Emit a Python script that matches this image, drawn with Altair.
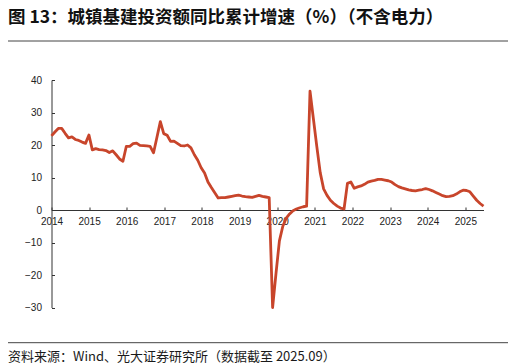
import altair as alt
import pandas as pd

TITLE = "图 13：城镇基建投资额同比累计增速（%）（不含电力）"
SOURCE = "资料来源：Wind、光大证券研究所（数据截至 2025.09）"

# cumulative YoY growth (%), monthly points (January not reported), 2014 -> 2025.09
values = [
    22.8, 24.0, 25.1, 25.1, 23.6, 22.2, 22.5, 21.7, 21.4, 20.9, 20.5,
    23.1, 18.5, 18.9, 18.6, 18.5, 18.3, 17.7, 18.2, 17.0, 15.7, 15.0,
    19.6, 19.6, 20.4, 20.6, 19.9, 19.8, 19.7, 19.6, 17.6, 22.4, 27.2,
    23.5, 23.0, 21.1, 21.2, 20.5, 19.8, 19.7, 20.0, 19.1, 17.0, 15.3,
    13.0, 11.4, 8.6, 6.9, 5.3, 3.7, 3.8, 3.8, 4.0, 4.2, 4.4,
    4.6, 4.3, 4.1, 4.0, 3.9, 4.2, 4.5, 4.2, 4.0, 3.8, -30.0,
    -19.5, -9.5, -5.0, -2.5, -1.2, -0.2, 0.3, 0.7, 1.0, 1.2, 36.6,
    28.0, 19.5, 11.5, 6.5, 4.5, 3.0, 2.0, 1.2, 0.6, 0.3, 8.2,
    8.6, 6.7, 7.1, 7.4, 7.9, 8.6, 8.9, 9.1, 9.4, 9.4, 9.2,
    9.0, 8.6, 7.8, 7.2, 6.8, 6.5, 6.2, 6.0, 5.9, 6.1, 6.3,
    6.6, 6.3, 5.9, 5.4, 4.9, 4.4, 4.1, 4.2, 4.4, 4.9, 5.6,
    6.1, 6.0, 5.6, 4.3, 3.0, 2.0, 1.2,
]
year_ticks = list(range(2014, 2026))
y_ticks = [-30, -20, -10, 0, 10, 20, 30, 40]
PTS_PER_YEAR = 11.06  # points per year on the category axis

df = pd.DataFrame({"v": values})
df["t"] = 2014 + df.index / PTS_PER_YEAR

W, H = 432, 227.5
XDOM = [2014, float(df["t"].max())]
YDOM = [-30, 40]
Y0 = H * YDOM[1] / (YDOM[1] - YDOM[0])  # pixel position of zero from top

xs = alt.Scale(domain=XDOM, nice=False, zero=False)
ys = alt.Scale(domain=YDOM, nice=False, zero=False)

AX = dict(grid=False, title=None, labelFont="Liberation Sans", labelFontSize=10,
          labelColor="#222222", domainColor="#333333", domainWidth=1,
          tickColor="#333333", tickWidth=1, labelOverlap=False, labelFlush=False)

line = alt.Chart(df).mark_line(color="#C8452B", strokeWidth=2.8, strokeJoin="round").encode(
    x=alt.X("t:Q", scale=xs,
            axis=alt.Axis(orient="bottom", offset=-(H - Y0), values=year_ticks, format="d",
                          ticks=False, tickSize=0, labelPadding=6, **AX)),
    y=alt.Y("v:Q", scale=ys,
            axis=alt.Axis(orient="left", values=y_ticks, ticks=False, tickSize=0,
                          labelPadding=10, **AX)),
)

tick_layer = alt.Chart(df).mark_line(opacity=0).encode(
    x=alt.X("t:Q", scale=xs,
            axis=alt.Axis(orient="top", offset=-Y0, values=year_ticks, labels=False,
                          domain=False, ticks=True, tickSize=3, **AX)),
    y=alt.Y("v:Q", scale=ys,
            axis=alt.Axis(orient="right", offset=-W, values=y_ticks, labels=False,
                          domain=False, ticks=True, tickSize=3, **AX)),
)

title = alt.Chart(pd.DataFrame({"s": [TITLE]})).mark_text(
    align="left", baseline="middle", font="Noto Sans CJK SC", fontSize=17.5,
    fontWeight="bold", color="#111111"
).encode(text="s:N", x=alt.value(-43.5), y=alt.value(-62.5))

source = alt.Chart(pd.DataFrame({"s": [SOURCE]})).mark_text(
    align="left", baseline="middle", font="Noto Sans CJK SC", fontSize=13,
    color="#1a1a1a"
).encode(text="s:N", x=alt.value(-43.5), y=alt.value(276.5))

rule_top = alt.Chart(pd.DataFrame({"a": [0]})).mark_rule(color="#444444", strokeWidth=1).encode(
    x=alt.value(-43.5), x2=alt.value(458.5), y=alt.value(-39))
rule_bot = alt.Chart(pd.DataFrame({"a": [0]})).mark_rule(color="#444444", strokeWidth=1).encode(
    x=alt.value(-43.5), x2=alt.value(458.5), y=alt.value(262.7))

chart = alt.layer(tick_layer, line, title, source, rule_top, rule_bot).resolve_axis(
    x="independent", y="independent"
).properties(
    width=W, height=H,
    autosize=alt.AutoSizeParams(type="none"),
    padding={"left": 43.5, "top": 72, "right": 24.5, "bottom": 56.5},
).configure_view(stroke=None)

chart.save("out.html", embed_options={"renderer": "svg", "actions": False})
